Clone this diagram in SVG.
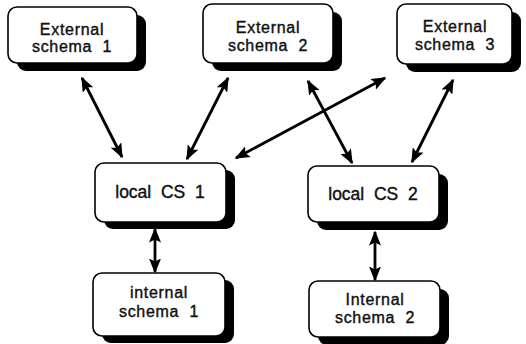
<svg xmlns="http://www.w3.org/2000/svg" width="526" height="344" viewBox="0 0 526 344">
<style>
.box{fill:#fff;stroke:#000;stroke-width:1.6}
.sh{fill:#000}
.t{font-family:"Liberation Sans",Arial,Helvetica,sans-serif;font-size:16px;letter-spacing:0.7px;fill:#111;stroke:#111;stroke-width:0.4;text-anchor:middle}
.tl{font-family:"Liberation Sans",Arial,Helvetica,sans-serif;font-size:17.5px;fill:#111;stroke:#111;stroke-width:0.4;text-anchor:middle}
.c{stroke:#000;stroke-width:2.8;fill:none;marker-start:url(#ah);marker-end:url(#ah)}
</style>
<defs>
<marker id="ah" viewBox="0 0 15 12" markerWidth="15" markerHeight="12" refX="13.5" refY="6" orient="auto-start-reverse" markerUnits="userSpaceOnUse">
<path d="M0,0 L15,6 L0,12 L3,6 Z" fill="#000"/>
</marker>
</defs>
<rect width="526" height="344" fill="#fff"/>
<g id="connectors">
<line class="c" x1="82" y1="78" x2="122" y2="157"/>
<line class="c" x1="228" y1="78" x2="187" y2="159"/>
<line class="c" x1="308" y1="81" x2="352" y2="163"/>
<line class="c" x1="385" y1="78" x2="236" y2="158"/>
<line class="c" x1="453" y1="80" x2="412" y2="162"/>
<line class="c" x1="155" y1="229" x2="155" y2="272"/>
<line class="c" x1="375" y1="232" x2="375" y2="280"/>
</g>
<g id="ext1">
<rect class="sh" x="17" y="15" width="129" height="56" rx="9"/>
<rect class="box" x="8" y="7" width="129" height="56" rx="9"/>
<text class="t" x="72" y="35">External</text>
<text class="t" x="72" y="52" xml:space="preserve">schema  1</text>
</g>
<g id="ext2">
<rect class="sh" x="212" y="12" width="130" height="59" rx="9"/>
<rect class="box" x="203" y="4" width="130" height="59" rx="9"/>
<text class="t" x="268" y="33">External</text>
<text class="t" x="268" y="51" xml:space="preserve">schema  2</text>
</g>
<g id="ext3">
<rect class="sh" x="406" y="12" width="115" height="60" rx="9"/>
<rect class="box" x="397" y="4" width="115" height="60" rx="9"/>
<text class="t" x="455" y="32">External</text>
<text class="t" x="455" y="50" xml:space="preserve">schema  3</text>
</g>
<g id="lcs1">
<rect class="sh" x="104" y="170" width="131" height="59" rx="9"/>
<rect class="box" x="95" y="163" width="131" height="59" rx="9"/>
<text class="tl" x="160" y="198" xml:space="preserve">local  CS  1</text>
</g>
<g id="lcs2">
<rect class="sh" x="317" y="174" width="131" height="56" rx="9"/>
<rect class="box" x="308" y="166" width="131" height="56" rx="9"/>
<text class="tl" x="373" y="200" xml:space="preserve">local  CS  2</text>
</g>
<g id="int1">
<rect class="sh" x="102" y="280" width="132" height="63" rx="9"/>
<rect class="box" x="93" y="273" width="132" height="63" rx="9"/>
<text class="t" x="159" y="298">internal</text>
<text class="t" x="159" y="317" xml:space="preserve">schema  1</text>
</g>
<g id="int2">
<rect class="sh" x="318" y="289" width="131" height="56" rx="9"/>
<rect class="box" x="309" y="281" width="131" height="56" rx="9"/>
<text class="t" x="375" y="305">Internal</text>
<text class="t" x="375" y="323" xml:space="preserve">schema  2</text>
</g>
</svg>
